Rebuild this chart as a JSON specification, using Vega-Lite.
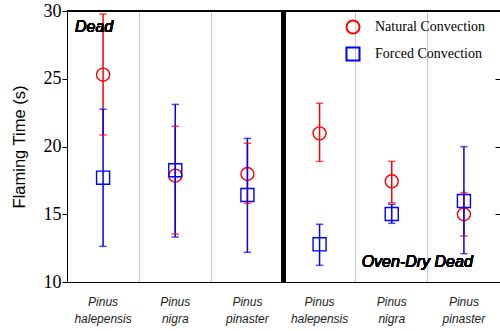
{
  "$schema": "https://vega.github.io/schema/vega-lite/v6.json",
  "width": 433,
  "height": 271,
  "autosize": {"type": "none"},
  "padding": {"left": 67, "top": 11, "right": 0, "bottom": 49},
  "background": "white",
  "config": {
    "view": {"stroke": null},
    "axis": {"domainColor": "black", "tickColor": "black", "labelColor": "black", "titleColor": "black", "grid": false},
    "axisLeft": {
      "tickSize": 5, "labelFont": "Liberation Serif", "labelFontSize": 18, "labelPadding": 1,
      "titleFont": "Liberation Sans", "titleFontSize": 16.5, "titleFontWeight": "normal", "titlePadding": 16
    },
    "axisRight": {"labels": false, "domain": false, "tickSize": -5},
    "axisBottom": {
      "ticks": false, "domain": true, "labelAngle": 0,
      "labelFont": "Liberation Sans", "labelFontStyle": "italic", "labelFontSize": 12,
      "labelColor": "#222", "labelPadding": 14, "labelLineHeight": 17
    },
    "legend": {
      "labelFont": "Liberation Serif", "labelFontSize": 14, "labelColor": "black",
      "symbolSize": 170, "symbolStrokeWidth": 2,
      "labelOffset": 14, "rowPadding": 5, "padding": 0
    }
  },
  "data": {
    "values": [
      {"group": "Dead|Pinus halepensis", "series": "Natural Convection", "mean": 25.3, "lo": 20.85, "hi": 29.78},
      {"group": "Dead|Pinus halepensis", "series": "Forced Convection", "mean": 17.7, "lo": 12.63, "hi": 22.75},
      {"group": "Dead|Pinus nigra", "series": "Natural Convection", "mean": 17.85, "lo": 13.54, "hi": 21.49},
      {"group": "Dead|Pinus nigra", "series": "Forced Convection", "mean": 18.25, "lo": 13.32, "hi": 23.11},
      {"group": "Dead|Pinus pinaster", "series": "Natural Convection", "mean": 17.97, "lo": 15.8, "hi": 20.24},
      {"group": "Dead|Pinus pinaster", "series": "Forced Convection", "mean": 16.42, "lo": 12.19, "hi": 20.6},
      {"group": "Oven-Dry Dead|Pinus halepensis", "series": "Natural Convection", "mean": 20.97, "lo": 18.9, "hi": 23.19},
      {"group": "Oven-Dry Dead|Pinus halepensis", "series": "Forced Convection", "mean": 12.78, "lo": 11.23, "hi": 14.26},
      {"group": "Oven-Dry Dead|Pinus nigra", "series": "Natural Convection", "mean": 17.43, "lo": 15.85, "hi": 18.9},
      {"group": "Oven-Dry Dead|Pinus nigra", "series": "Forced Convection", "mean": 15.02, "lo": 14.33, "hi": 15.73},
      {"group": "Oven-Dry Dead|Pinus pinaster", "series": "Natural Convection", "mean": 15.0, "lo": 13.4, "hi": 16.6},
      {"group": "Oven-Dry Dead|Pinus pinaster", "series": "Forced Convection", "mean": 15.98, "lo": 12.09, "hi": 19.99}
    ]
  },
  "resolve": {"axis": {"x": "independent", "y": "independent"}},
  "layer": [
    {
      "mark": {"type": "point", "filled": false, "strokeWidth": 1.4, "size": 170, "opacity": 1},
      "encoding": {
        "x": {
          "field": "group", "type": "nominal",
          "sort": ["Dead|Pinus halepensis", "Dead|Pinus nigra", "Dead|Pinus pinaster", "Oven-Dry Dead|Pinus halepensis", "Oven-Dry Dead|Pinus nigra", "Oven-Dry Dead|Pinus pinaster"],
          "scale": {"paddingInner": 0, "paddingOuter": 0},
          "axis": {
            "orient": "bottom", "title": null,
            "grid": true, "gridColor": "#c8c8c8", "gridWidth": 1, "bandPosition": 0,
            "labelExpr": "split(split(datum.label, '|')[1], ' ')"
          }
        },
        "y": {
          "field": "mean", "type": "quantitative",
          "scale": {"domain": [10, 30], "zero": false, "nice": false},
          "axis": {"orient": "left", "values": [10, 15, 20, 25, 30], "title": "Flaming Time (s)"}
        },
        "stroke": {
          "field": "series", "type": "nominal",
          "scale": {"domain": ["Natural Convection", "Forced Convection"], "range": ["#ff0000", "#0000ff"]},
          "legend": {"orient": "none", "legendX": 278, "legendY": 8, "title": null}
        },
        "shape": {
          "field": "series", "type": "nominal",
          "scale": {"domain": ["Natural Convection", "Forced Convection"], "range": ["circle", "square"]},
          "legend": {"orient": "none", "legendX": 278, "legendY": 8, "title": null}
        }
      }
    },
    {
      "mark": {"type": "rule", "strokeWidth": 1.5},
      "encoding": {
        "x": {"field": "group", "type": "nominal", "axis": null},
        "y": {
          "field": "lo", "type": "quantitative",
          "axis": {"orient": "right", "values": [15, 20, 25], "title": null}
        },
        "y2": {"field": "hi"},
        "stroke": {"field": "series", "type": "nominal"}
      }
    },
    {
      "mark": {"type": "tick", "size": 6, "thickness": 0.1, "filled": false, "strokeWidth": 1.4},
      "encoding": {
        "x": {"field": "group", "type": "nominal", "axis": null},
        "y": {"field": "lo", "type": "quantitative", "axis": null},
        "stroke": {"field": "series", "type": "nominal"}
      }
    },
    {
      "mark": {"type": "tick", "size": 6, "thickness": 0.1, "filled": false, "strokeWidth": 1.4},
      "encoding": {
        "x": {"field": "group", "type": "nominal", "axis": null},
        "y": {"field": "hi", "type": "quantitative", "axis": null},
        "stroke": {"field": "series", "type": "nominal"}
      }
    },
    {
      "mark": {"type": "rule", "color": "black", "strokeWidth": 1},
      "encoding": {
        "y": {"datum": 30, "type": "quantitative", "axis": null}
      }
    },
    {
      "mark": {"type": "rule", "color": "black", "strokeWidth": 3.5},
      "encoding": {
        "x": {"datum": "Oven-Dry Dead|Pinus halepensis", "type": "nominal", "bandPosition": 0, "axis": null}
      }
    },
    {
      "mark": {"type": "text", "text": "Dead", "font": "Liberation Sans", "fontStyle": "italic", "fontWeight": "normal", "fontSize": 16, "align": "left", "baseline": "middle", "dx": 8, "color": "black"},
      "encoding": {
        "x": {"datum": "Dead|Pinus halepensis", "type": "nominal", "bandPosition": 0, "axis": null},
        "y": {"datum": 28.8, "type": "quantitative", "axis": null}
      }
    },
    {
      "mark": {"type": "text", "text": "Oven-Dry Dead", "font": "Liberation Sans", "fontStyle": "italic", "fontWeight": "normal", "fontSize": 16, "align": "left", "baseline": "middle", "dx": 6, "color": "black"},
      "encoding": {
        "x": {"datum": "Oven-Dry Dead|Pinus nigra", "type": "nominal", "bandPosition": 0, "axis": null},
        "y": {"datum": 11.48, "type": "quantitative", "axis": null}
      }
    }
  ]
}
